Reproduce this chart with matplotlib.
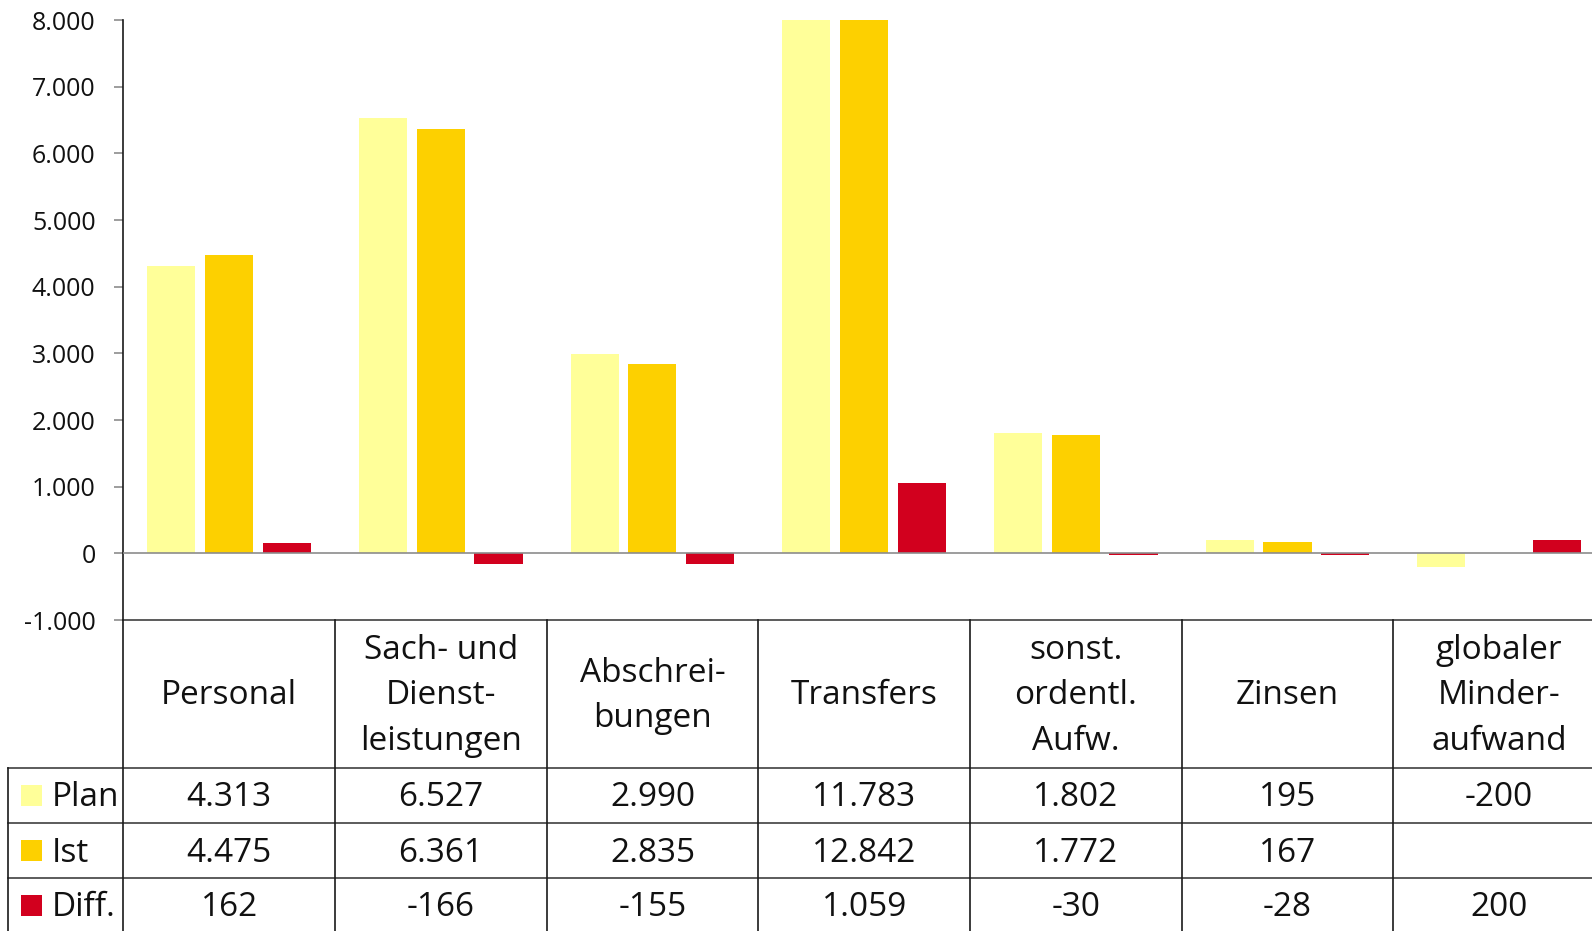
import matplotlib
matplotlib.use("Agg")
import matplotlib.pyplot as plt
from matplotlib.patches import Rectangle

plt.rcParams['font.family'] = ['Open Sans', 'DejaVu Sans']

categories = ["Personal", "Sach- und\nDienst-\nleistungen", "Abschrei-\nbungen", "Transfers",
              "sonst.\nordentl.\nAufw.", "Zinsen", "globaler\nMinder-\naufwand"]
series_names = ["Plan", "Ist", "Diff."]
plan = [4313, 6527, 2990, 11783, 1802, 195, -200]
ist = [4475, 6361, 2835, 12842, 1772, 167, None]
diff = [162, -166, -155, 1059, -30, -28, 200]
yticks = [-1000, 0, 1000, 2000, 3000, 4000, 5000, 6000, 7000, 8000]
colors = ["#FFFF99", "#FDD000", "#D2001E"]

W, H = 1592, 931
fig = plt.figure(figsize=(W / 100, H / 100), dpi=100)

colw = 211.67
x0 = 123.3
left_px = 8.3
ax = fig.add_axes([x0 / W, (H - 620) / H, 7 * colw / W, 600 / H])
ax.set_xlim(0, 7)
ax.set_ylim(-1000, 8000)

def fmt(v):
    return f"{v:,.0f}".replace(",", ".")

n = len(categories)
bw = 0.227
offs = [-0.2725, 0.0, 0.2725]
for s, (vals, c) in enumerate(zip([plan, ist, diff], colors)):
    xs = [i + 0.5 + offs[s] for i in range(n) if vals[i] is not None]
    vs = [vals[i] for i in range(n) if vals[i] is not None]
    ax.bar(xs, vs, width=bw, color=c, linewidth=0, zorder=2)

ax.axhline(0, color="#8c8c8c", lw=1.2, zorder=3)
for sp in ["top", "right", "bottom"]:
    ax.spines[sp].set_visible(False)
ax.spines["left"].set_color("#1a1a1a")
ax.spines["left"].set_linewidth(1.2)
ax.set_xticks([])
ax.set_yticks(yticks)
ax.set_yticklabels([fmt(v) for v in yticks], fontsize=18, color="#111111")
ax.tick_params(axis="y", length=6.5, width=1.2, color="#8c8c8c", pad=13.5)

# Data table
xl = -(x0 - left_px) / colw
tax = fig.add_axes([left_px / W, (H - 933) / H, (7 * colw + x0 - left_px) / W, 313 / H])
tax.set_xlim(xl, 7)
tax.set_ylim(313, 0)
tax.axis("off")

hc = "#404040"
vc = "#1a1a1a"
tax.plot([0, 7], [0, 0], color=hc, lw=1.2, clip_on=False)
for yy in [148, 203, 258, 313]:
    tax.plot([xl, 7], [yy, yy], color=hc, lw=1.2, clip_on=False)
for i in range(8):
    tax.plot([i, i], [0, 313], color=vc, lw=1.2, clip_on=False)
tax.plot([xl, xl], [148, 313], color=vc, lw=1.2, clip_on=False)

for i, cat in enumerate(categories):
    tax.text(i + 0.5, 76, cat, ha="center", va="center", fontsize=24,
             linespacing=1.5, color="#111111")

rows = [plan, ist, diff]
sq = 21 / colw
for r, (name, vals, c) in enumerate(zip(series_names, rows, colors)):
    yc = 148 + 27.5 + r * 55
    tax.add_patch(Rectangle(((21 - x0) / colw, yc - 10.5), sq, 21, color=c, lw=0))
    tax.text((51.7 - x0) / colw, yc + 2.5, name, ha="left", va="center", fontsize=24, color="#111111")
    for i, v in enumerate(vals):
        if v is not None:
            tax.text(i + 0.5, yc + 2.5, fmt(v), ha="center", va="center", fontsize=24, color="#111111")

fig.savefig("out.png", dpi=100)
